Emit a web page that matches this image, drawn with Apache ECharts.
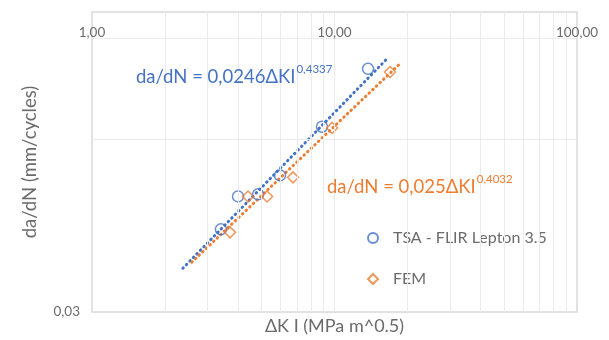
<!DOCTYPE html>
<html>
<head>
<meta charset="utf-8">
<script src="https://cdn.jsdelivr.net/npm/echarts@6/dist/echarts.min.js"></script>
<style>
  html, body { margin: 0; padding: 0; background: #ffffff; }
  #chart { width: 609px; height: 340px; }
</style>
</head>
<body>
<div id="chart"></div>
<script>
// Crack growth rate vs. stress intensity factor range (log-log)
const tsaK    = [13.75, 8.88, 5.96, 4.84, 4.00, 3.40];
const tsaRate = [0.0796, 0.0631, 0.0519, 0.0481, 0.0477, 0.0418];
const femK    = [16.94, 9.77, 6.74, 5.27, 4.40, 3.71];
const femRate = [0.0786, 0.0628, 0.0515, 0.0477, 0.0477, 0.0413];

// Power-law fits da/dN = C * dK^m and the dK span each trendline covers
const tsaFit = [0.0246, 0.4337];
const femFit = [0.025, 0.4032];
const tsaFitRange = [2.37, 16.6];
const femFitRange = [2.58, 18.4];

// Axis ticks and gridlines
const xLabelValues = [1, 10, 100];
const xMinorGrid = [2, 3, 4, 5, 6, 7, 8, 9, 20, 30, 40, 50, 60, 70, 80, 90];
const yLabelValues = [0.03];
const yGrid = [0.06, 0.09];

const BLUE = '#4472C4';
const ORANGE = '#ED7D31';
const TEXT = '#6b6b6b';
const FONT = 'Lato, "Open Sans", sans-serif';

const fmt = v => v.toFixed(2).replace('.', ',');
const decimalComma = v => String(v).replace('.', ',');
const fitLine = (fit, range) => range.map(k => [k, fit[0] * Math.pow(k, fit[1])]);

const gridLineStyle = { color: '#ebebeb', width: 1, type: 'solid' };

function equation(fit, color, left, top) {
  return {
    type: 'text', left: left, top: top, z: 10,
    style: {
      text: '{m|da/dN = ' + decimalComma(fit[0]) + 'ΔKI}{s|' + decimalComma(fit[1]) + '}',
      rich: {
        m: { fill: color, fontSize: 18.5, fontFamily: FONT, lineHeight: 24, verticalAlign: 'bottom' },
        s: { fill: color, fontSize: 11.5, fontFamily: FONT, lineHeight: 24, verticalAlign: 'top', padding: [0, 0, 4, 1] }
      }
    }
  };
}

const chart = echarts.init(document.getElementById('chart'), null, { renderer: 'canvas' });
chart.setOption({
  animation: false,
  backgroundColor: '#ffffff',
  textStyle: { fontFamily: FONT },
  grid: {
    left: 92, right: 32, top: 12, bottom: 27,
    show: true, borderColor: '#d9d9d9', borderWidth: 1.5, backgroundColor: 'transparent'
  },
  xAxis: [{
    type: 'log', logBase: 10, min: 1, max: 100, position: 'top', z: 5,
    axisLine: { show: false }, axisTick: { show: false },
    splitLine: { show: false },
    axisLabel: {
      inside: true, margin: 14, color: TEXT, fontSize: 13.5, fontFamily: FONT,
      customValues: xLabelValues, formatter: v => fmt(v)
    }
  }, {
    type: 'log', logBase: 10, min: 1, max: 100, position: 'bottom',
    axisLine: { show: false }, axisTick: { show: false }, axisLabel: { show: false },
    splitLine: { show: false },
    name: 'ΔK I (MPa m^0.5)', nameLocation: 'middle', nameGap: 5,
    nameTextStyle: { color: TEXT, fontSize: 18, fontFamily: FONT }
  }],
  yAxis: {
    type: 'log', logBase: 10, min: 0.03, max: 0.1,
    axisLine: { show: false }, axisTick: { show: false },
    splitLine: { show: false },
    axisLabel: {
      color: TEXT, fontSize: 13.5, fontFamily: FONT, margin: 12,
      customValues: yLabelValues, formatter: v => fmt(v)
    },
    name: 'da/dN (mm/cycles)', nameLocation: 'middle', nameGap: 52,
    nameTextStyle: { color: TEXT, fontSize: 18.5, fontFamily: FONT }
  },
  legend: {
    orient: 'vertical', left: 362, top: 225, itemGap: 25,
    itemWidth: 10, itemHeight: 10,
    textStyle: { color: TEXT, fontSize: 16, fontFamily: FONT, padding: [0, 0, 0, 10] },
    data: ['TSA - FLIR Lepton 3.5', 'FEM']
  },
  series: [
    {
      // gridlines
      type: 'line', data: [], silent: true, z: -1,
      markLine: {
        silent: true, symbol: 'none', label: { show: false },
        lineStyle: gridLineStyle,
        data: xMinorGrid.map(v => ({ xAxis: v })).concat([{ xAxis: 10 }])
          .concat(yGrid.map(v => ({ yAxis: v })))
      }
    },
    {
      name: 'TSA fit', type: 'line', data: fitLine(tsaFit, tsaFitRange),
      symbol: 'none', silent: true, z: 3,
      lineStyle: { color: BLUE, width: 3, type: [0.5, 4.5], cap: 'round' }
    },
    {
      name: 'FEM fit', type: 'line', data: fitLine(femFit, femFitRange),
      symbol: 'none', silent: true, z: 3,
      lineStyle: { color: ORANGE, width: 3, type: [0.5, 4.5], cap: 'round' }
    },
    {
      name: 'TSA - FLIR Lepton 3.5', type: 'scatter', z: 4,
      data: tsaK.map((k, i) => [k, tsaRate[i]]),
      symbol: 'circle', symbolSize: 11,
      itemStyle: { color: 'rgba(255,255,255,0)', borderColor: BLUE, borderWidth: 1.5 }
    },
    {
      name: 'FEM', type: 'scatter', z: 4,
      data: femK.map((k, i) => [k, femRate[i]]),
      symbol: 'path://M0,-1 L1,0 L0,1 L-1,0 Z', symbolSize: 11,
      itemStyle: { color: 'rgba(255,255,255,0)', borderColor: ORANGE, borderWidth: 1.5 }
    }
  ],
  graphic: [
    equation(tsaFit, BLUE, 136, 63),
    equation(femFit, ORANGE, 327, 173)
  ]
});
</script>
</body>
</html>
